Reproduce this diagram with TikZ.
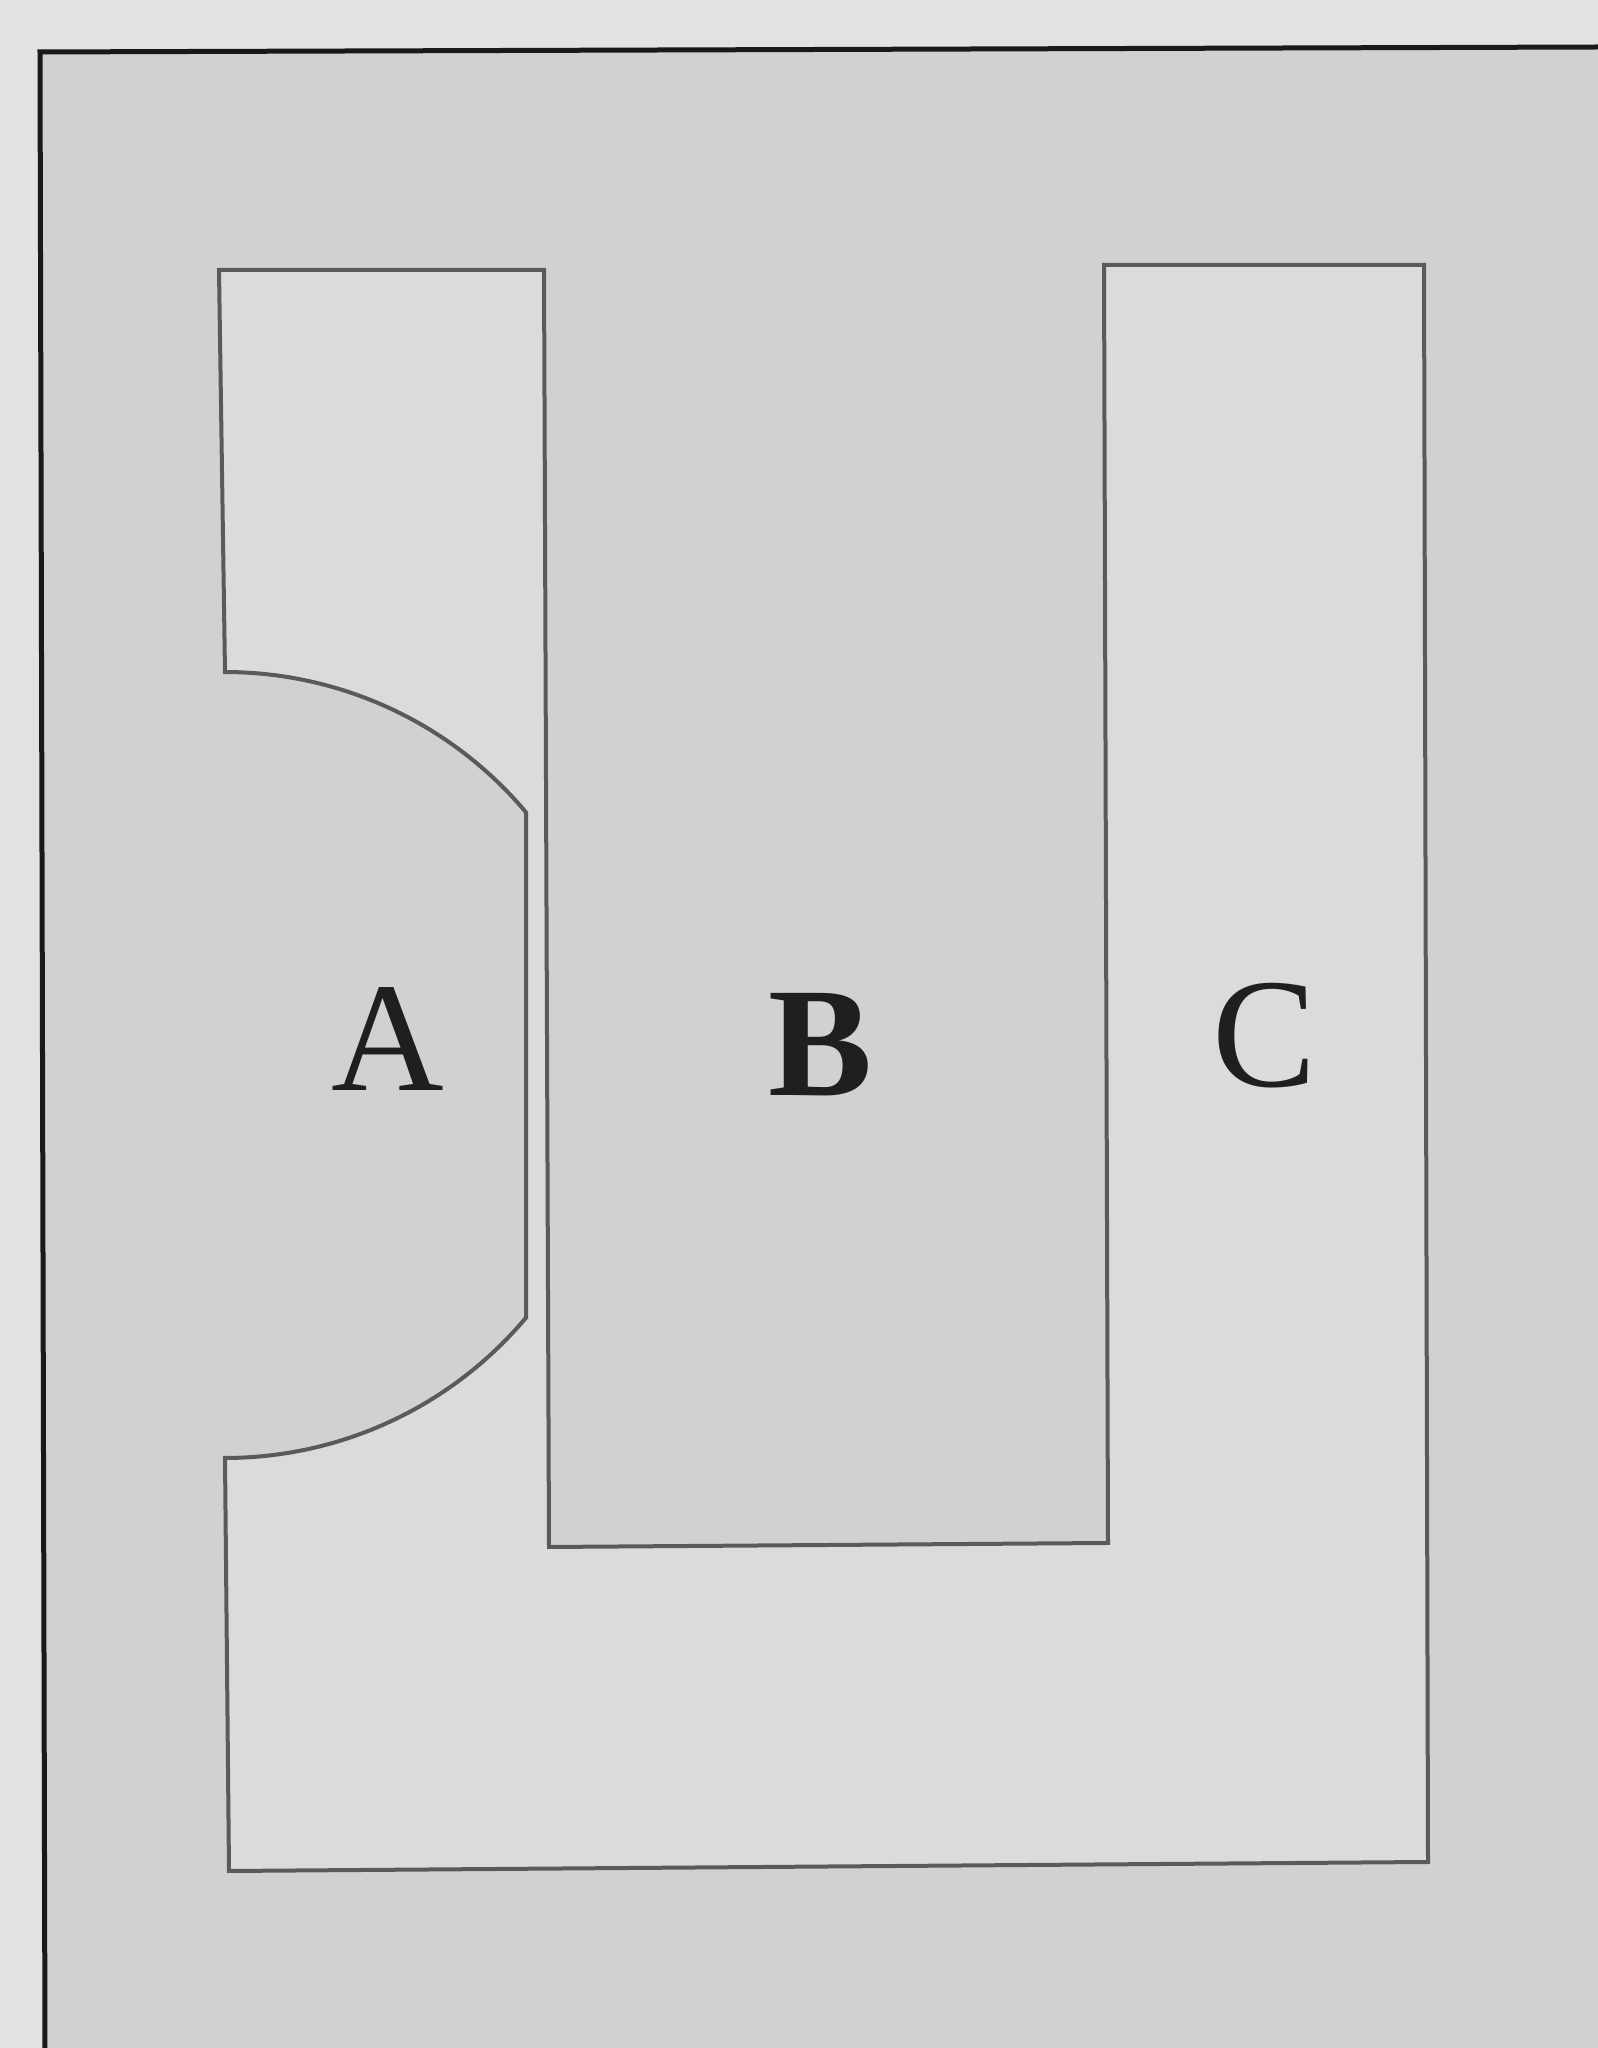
\documentclass[tikz,border=0pt]{standalone}
\usepackage{fontspec}
\setmainfont{Liberation Serif}
\definecolor{margin}{HTML}{E2E2E2}
\definecolor{darkfield}{HTML}{D1D1D1}
\definecolor{lightfield}{HTML}{DBDBDB}
\definecolor{edge}{HTML}{5A5A5A}
\tikzset{
  region/.style={fill=lightfield, draw=edge, line width=4pt, line join=miter},
  frameline/.style={draw=black!90, line width=5pt},
  letter/.style={font=\fontsize{156}{160}\selectfont, text=black!88, inner sep=0pt}
}
\begin{document}
\begin{tikzpicture}[x=1pt,y=1pt]
\useasboundingbox (0,0) rectangle (1598,2048);
% page background
\fill[margin] (0,0) rectangle (1598,2048);
% inside of frame
\fill[darkfield] (45,0) -- (40,1996) -- (1598,2001) -- (1598,0) -- cycle;
% frame lines
\draw[frameline] (45,-5) -- (40,1996) -- (1603,2001);
% light U-shaped region with the cut-out A
\path[region] (219,1778) -- (544,1778) -- (549,501) -- (1108,505) -- (1104,1783)
  -- (1424,1783) -- (1428,186) -- (229,177) -- (225,590)
  arc[start angle=-90, end angle=-40, radius=393] -- ++(0,505.2)
  arc[start angle=40, end angle=90, radius=393] -- cycle;
% labels
\node[letter] (A) at (388,1009) {A};
\node[letter, font=\fontsize{156}{160}\selectfont\bfseries] (B) at (821,1003) {B};
\node[letter] (C) at (1265,1012) {C};
\end{tikzpicture}
\end{document}
